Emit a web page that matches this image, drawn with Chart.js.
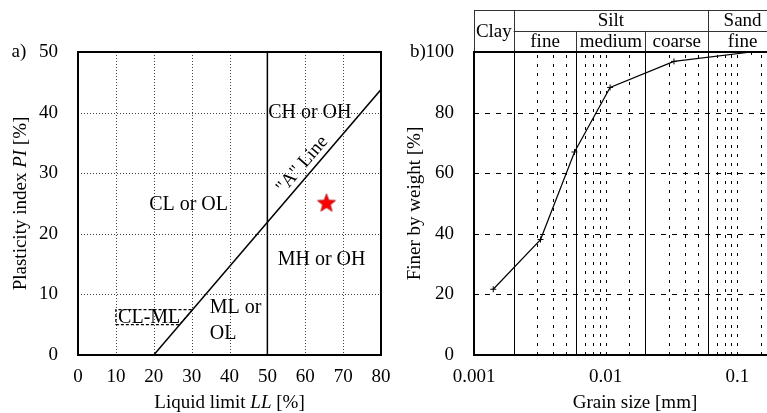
<!DOCTYPE html>
<html lang="en">
<head>
<meta charset="UTF-8">
<title>Plasticity chart and grain size distribution</title>
<script src="https://cdn.jsdelivr.net/npm/chart.js@4.4.1/dist/chart.umd.min.js"></script>
<style>
  html, body { margin: 0; padding: 0; background: #fff; overflow: hidden; }
  #wrap { position: relative; width: 767px; height: 413px; overflow: hidden; }
  #left { position: absolute; left: 0; top: 0; }
  #right { position: absolute; left: 390px; top: 0; }
</style>
</head>
<body>
<div id="wrap">
  <canvas id="left" width="400" height="413"></canvas>
  <canvas id="right" width="397" height="413"></canvas>
</div>
<script>
// ---- a) plasticity chart data ----
const llRange = [0, 80];
const piRange = [0, 50];
const aLineLL = [20, 80];
const aLinePI = [0, 43.8];
const dividerLL = [50, 50];
const dividerPI = [0, 50];
const clmlLL = [10, 26.8, 30.3, 10, 10];
const clmlPI = [5, 5, 7.5, 7.5, 5];
const sampleLL = [65.6];
const samplePI = [25];

// ---- b) grain size distribution data ----
const sizeRange = [0.001, 0.2];
const finerRange = [0, 100];
const grainSize = [0.0014, 0.0032, 0.0058, 0.0108, 0.033, 0.128];
const finerPct = [21.7, 38.1, 67.0, 88.3, 96.9, 100];
const classBounds = [0.002, 0.006, 0.02, 0.06];
const mainClasses = ['Silt', 'Sand'];
const mainFrom = [0.002, 0.06];
const mainTo = [0.06, 0.2];
const subClasses = ['fine', 'medium', 'coarse', 'fine'];
const subFrom = [0.002, 0.006, 0.02, 0.06];
const subTo = [0.006, 0.02, 0.06, 0.2];

const FONT = '"Liberation Serif", "Times New Roman", serif';
const pts = (xs, ys) => xs.map((x, i) => ({ x: x, y: ys[i] }));

function makeStar() {
  const c = document.createElement('canvas');
  c.width = 22; c.height = 22;
  const g = c.getContext('2d');
  g.beginPath();
  for (let i = 0; i < 10; i++) {
    const r = i % 2 ? 4 : 9.5;
    const a = -Math.PI / 2 + i * Math.PI / 5;
    g.lineTo(11 + r * Math.cos(a), 11 + r * Math.sin(a));
  }
  g.closePath();
  g.fillStyle = '#ff0000';
  g.fill();
  g.strokeStyle = '#b00000';
  g.lineWidth = 0.8;
  g.stroke();
  return c;
}

function line(ctx, x1, y1, x2, y2, w, color, dash) {
  ctx.save();
  ctx.beginPath();
  ctx.lineWidth = w;
  ctx.strokeStyle = color;
  ctx.setLineDash(dash || []);
  ctx.moveTo(x1, y1);
  ctx.lineTo(x2, y2);
  ctx.stroke();
  ctx.restore();
}

// draws text made of [string, italic] parts, centred on (0,0) of current transform
function richText(ctx, parts, size) {
  let total = 0;
  const widths = parts.map(p => {
    ctx.font = (p[1] ? 'italic ' : '') + size + 'px ' + FONT;
    const w = ctx.measureText(p[0]).width;
    total += w;
    return w;
  });
  let x = -total / 2;
  parts.forEach((p, i) => {
    ctx.font = (p[1] ? 'italic ' : '') + size + 'px ' + FONT;
    ctx.textAlign = 'left';
    ctx.fillText(p[0], x, 0);
    x += widths[i];
  });
}

function text(ctx, s, x, y, size, align) {
  ctx.font = size + 'px ' + FONT;
  ctx.textAlign = align || 'center';
  ctx.textBaseline = 'middle';
  ctx.fillStyle = '#000';
  ctx.fillText(s, x, y);
}

Chart.defaults.font.family = FONT;
Chart.defaults.color = '#000';

// ---------- left chart ----------
const regionLabels = [
  { t: 'CL or OL', x: 29.2, y: 24.8, align: 'center' },
  { t: 'CH or OH', x: 61.2, y: 39.9, align: 'center' },
  { t: 'MH or OH', x: 64.3, y: 15.8, align: 'center' },
  { t: 'ML or', x: 34.8, y: 7.75, align: 'left' },
  { t: 'OL', x: 34.8, y: 3.5, align: 'left' },
  { t: 'CL-ML', x: 18.8, y: 6.1, align: 'center' }
];

const leftDecor = {
  id: 'leftDecor',
  beforeDatasetsDraw(chart) {
    const { ctx, chartArea: a, scales: { x, y } } = chart;
    x.ticks.forEach(t => {
      if (t.value <= llRange[0] || t.value >= llRange[1] || t.value === 50) return;
      const px = Math.round(x.getPixelForValue(t.value)) + 0.5;
      line(ctx, px, a.top, px, a.bottom, 1, '#444', [1, 2]);
    });
    y.ticks.forEach(t => {
      if (t.value <= piRange[0] || t.value >= piRange[1]) return;
      const py = Math.round(y.getPixelForValue(t.value)) + 0.5;
      line(ctx, a.left, py, a.right, py, 1, '#444', [1, 2]);
    });
  },
  afterDatasetsDraw(chart) {
    const { ctx, chartArea: a, scales: { x, y } } = chart;
    ctx.save();
    ctx.lineWidth = 2;
    ctx.strokeStyle = '#000';
    ctx.strokeRect(a.left, a.top, a.right - a.left, a.bottom - a.top);
    regionLabels.forEach(l => {
      text(ctx, l.t, x.getPixelForValue(l.x), y.getPixelForValue(l.y), 20, l.align);
    });
    // "A" line label along the line
    const x1 = x.getPixelForValue(aLineLL[0]), y1 = y.getPixelForValue(aLinePI[0]);
    const x2 = x.getPixelForValue(aLineLL[1]), y2 = y.getPixelForValue(aLinePI[1]);
    ctx.save();
    ctx.translate(x.getPixelForValue(59.2), y.getPixelForValue(31.4));
    ctx.rotate(Math.atan2(y2 - y1, x2 - x1));
    text(ctx, '"A" Line', 0, 0, 19, 'center');
    ctx.restore();
    // axis titles
    ctx.fillStyle = '#000';
    ctx.textBaseline = 'middle';
    ctx.save();
    ctx.translate((a.left + a.right) / 2, 403);
    richText(ctx, [['Liquid limit ', false], ['LL', true], [' [%]', false]], 19);
    ctx.restore();
    ctx.save();
    ctx.translate(21, (a.top + a.bottom) / 2);
    ctx.rotate(-Math.PI / 2);
    richText(ctx, [['Plasticity index ', false], ['PI', true], [' [%]', false]], 19);
    ctx.restore();
    text(ctx, 'a)', 19, a.top, 19, 'center');
    ctx.restore();
  }
};

new Chart(document.getElementById('left'), {
  type: 'scatter',
  data: {
    datasets: [
      { data: pts(dividerLL, dividerPI), showLine: true, borderColor: '#000', borderWidth: 1.5, pointRadius: 0 },
      { data: pts(aLineLL, aLinePI), showLine: true, borderColor: '#000', borderWidth: 1.5, pointRadius: 0 },
      { data: pts(clmlLL, clmlPI), showLine: true, borderColor: '#000', borderWidth: 1.2, borderDash: [3, 2], pointRadius: 0 },
      { data: pts(sampleLL, samplePI), pointStyle: makeStar(), pointRadius: 10, showLine: false }
    ]
  },
  options: {
    responsive: false,
    animation: false,
    layout: { padding: { top: 52, right: 19, left: 0, bottom: 0 } },
    plugins: { legend: { display: false }, tooltip: { enabled: false } },
    scales: {
      x: {
        type: 'linear', min: llRange[0], max: llRange[1],
        grid: { display: false }, border: { display: false },
        ticks: { stepSize: 10, font: { size: 19 }, padding: 3, maxRotation: 0 },
        afterFit(s) { s.height = 58; }
      },
      y: {
        type: 'linear', min: piRange[0], max: piRange[1],
        grid: { display: false }, border: { display: false },
        ticks: { stepSize: 10, font: { size: 19 }, padding: 12 },
        afterFit(s) { s.width = 78; }
      }
    }
  },
  plugins: [leftDecor]
});

// ---------- right chart ----------
const isBound = v => classBounds.some(b => Math.abs(b - v) / b < 1e-6);

const rightDecor = {
  id: 'rightDecor',
  beforeDatasetsDraw(chart) {
    const { ctx, chartArea: a, scales: { x, y } } = chart;
    y.ticks.forEach(t => {
      if (t.value <= finerRange[0] || t.value >= finerRange[1]) return;
      const py = Math.round(y.getPixelForValue(t.value)) + 0.5;
      line(ctx, a.left, py, a.right + 20, py, 1, '#000', [5, 6]);
    });
    x.ticks.forEach(t => {
      if (t.value <= sizeRange[0] * 1.0001 || t.value >= sizeRange[1] * 0.9999 || isBound(t.value)) return;
      const px = Math.round(x.getPixelForValue(t.value)) + 0.5;
      line(ctx, px, a.bottom, px, a.top, 1, '#000', [3, 6]);
    });
    classBounds.forEach(b => {
      const px = Math.round(x.getPixelForValue(b)) + 0.5;
      line(ctx, px, a.top, px, a.bottom, 1, '#000');
    });
  },
  afterDatasetsDraw(chart) {
    const { ctx, chartArea: a, scales: { x, y } } = chart;
    const right = chart.width;
    // header table
    const top = 10.5, mid = 31.5;
    line(ctx, a.left, top, right, top, 1, '#333');
    line(ctx, x.getPixelForValue(classBounds[0]), mid, right, mid, 1, '#333');
    line(ctx, a.left + 0.5, top, a.left + 0.5, a.top, 1, '#333');
    [classBounds[0], classBounds[3]].forEach(b => {
      const px = Math.round(x.getPixelForValue(b)) + 0.5;
      line(ctx, px, top, px, a.top, 1, '#333');
    });
    [classBounds[1], classBounds[2]].forEach(b => {
      const px = Math.round(x.getPixelForValue(b)) + 0.5;
      line(ctx, px, mid, px, a.top, 1, '#333');
    });
    text(ctx, 'Clay', (a.left + x.getPixelForValue(classBounds[0])) / 2, 32, 19, 'center');
    mainClasses.forEach((c, i) => {
      text(ctx, c, (x.getPixelForValue(mainFrom[i]) + x.getPixelForValue(mainTo[i])) / 2, 21, 19, 'center');
    });
    subClasses.forEach((c, i) => {
      text(ctx, c, (x.getPixelForValue(subFrom[i]) + x.getPixelForValue(subTo[i])) / 2, 42, 19, 'center');
    });
    // axes frame
    line(ctx, a.left, a.top, a.left, a.bottom + 1, 2, '#000');
    line(ctx, a.left - 1, a.bottom, right, a.bottom, 2, '#000');
    line(ctx, a.left - 1, a.top, right, a.top, 2, '#000');
    // titles
    ctx.fillStyle = '#000';
    ctx.textBaseline = 'middle';
    ctx.save();
    ctx.translate(245, 403);
    richText(ctx, [['Grain size [mm]', false]], 19);
    ctx.restore();
    ctx.save();
    ctx.translate(25, (a.top + a.bottom) / 2);
    ctx.rotate(-Math.PI / 2);
    richText(ctx, [['Finer by weight [%]', false]], 19);
    ctx.restore();
    text(ctx, 'b)', 28, a.top, 19, 'center');
  }
};

new Chart(document.getElementById('right'), {
  type: 'scatter',
  data: {
    datasets: [
      { data: pts(grainSize, finerPct), showLine: true, borderColor: '#000', borderWidth: 1.2,
        pointStyle: 'cross', pointRadius: 3, pointBorderWidth: 1, pointBorderColor: '#000' }
    ]
  },
  options: {
    responsive: false,
    animation: false,
    layout: { padding: { top: 52, right: 10, left: 0, bottom: 0 } },
    plugins: { legend: { display: false }, tooltip: { enabled: false } },
    scales: {
      x: {
        type: 'logarithmic', min: sizeRange[0], max: sizeRange[1],
        grid: { display: false }, border: { display: false },
        ticks: {
          autoSkip: false, maxRotation: 0, minRotation: 0, font: { size: 19 }, padding: 3,
          callback(v) {
            const e = Math.log10(v);
            return Math.abs(e - Math.round(e)) < 1e-6 ? String(Number(v.toPrecision(3))) : '';
          }
        },
        afterFit(s) { s.height = 58; }
      },
      y: {
        type: 'linear', min: finerRange[0], max: finerRange[1],
        grid: { display: false }, border: { display: false },
        ticks: { stepSize: 20, font: { size: 19 }, padding: 12 },
        afterFit(s) { s.width = 84; }
      }
    }
  },
  plugins: [rightDecor]
});
</script>
</body>
</html>
